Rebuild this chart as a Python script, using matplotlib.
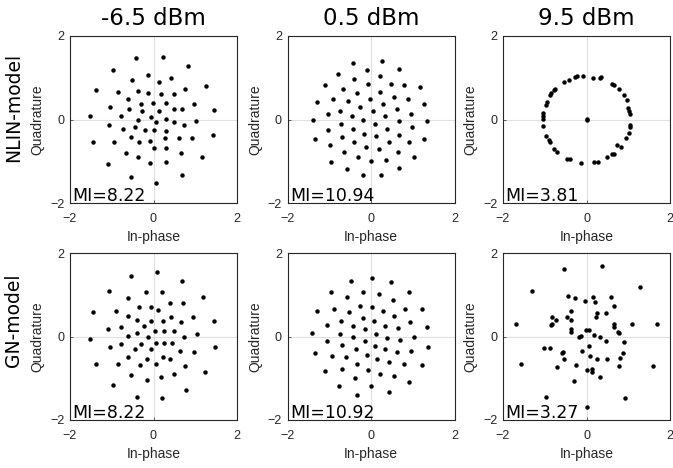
import numpy as np
import matplotlib.pyplot as plt

# launch powers and MI values
powers = ["-6.5 dBm", "0.5 dBm", "9.5 dBm"]
models = ["NLIN-model", "GN-model"]
mi_nlin = [8.22, 10.94, 3.81]
mi_gn = [8.22, 10.92, 3.27]

# received constellations
nlin_lo_i = [-0.41, 0.22, 0.83, -0.96, -0.14, 0.42, -0.52, 0.12, 1.26, -1.38, -0.86, -0.36, -0.13, 0.18, 0.48, 0.75,
             -0.61, -0.29, -0.02, 0.29, 0.97, -1.04, -0.59, -0.27, 0.12, 0.48, 0.69, 1.46, -1.52, -0.77, -0.06, -0.38,
             0.06, 0.29, 0.48, 0.72, 1.02, -1.07, -0.74, -0.44, -0.20, 0.00, 0.30, -1.44, -0.94, -0.54, -0.35, -0.08,
             0.28, 0.60, 0.92, 1.43, 0.00, 0.30, -0.67, -0.37, 0.67, 1.16, -0.08, 0.29, -1.08, -0.54, 0.69, 0.07]
nlin_lo_q = [1.48, 1.49, 1.29, 1.18, 1.07, 0.99, 0.94, 0.90, 0.81, 0.70, 0.67, 0.68, 0.64, 0.60, 0.60, 0.73,
             0.49, 0.36, 0.40, 0.39, 0.37, 0.31, 0.24, 0.20, 0.21, 0.24, 0.24, 0.23, 0.08, 0.09, 0.07, -0.02,
             -0.07, 0.01, -0.07, -0.13, -0.04, -0.13, -0.22, -0.17, -0.24, -0.26, -0.28, -0.54, -0.53, -0.43, -0.54, -0.51,
             -0.44, -0.44, -0.45, -0.38, -0.69, -0.69, -0.81, -0.90, -0.81, -0.91, -1.05, -1.02, -1.07, -1.38, -1.33, -1.52]

nlin_mid_i = [-0.42, 0.26, -0.78, -0.10, 0.66, -0.41, 0.22, -1.10, -0.68, -0.06, 0.47, 0.80, 1.17, -0.33, 0.22, -1.30,
              -0.91, -0.55, -0.03, 0.54, 0.89, -0.26, 0.29, 1.28, -0.74, -1.04, -0.46, 0.04, 0.62, 0.97, 0.34, -1.38,
              -0.18, 0.10, 0.66, 1.34, -0.73, -1.02, -0.44, -0.16, 0.38, 0.98, -1.34, -0.70, 0.13, 0.66, 1.28, -0.98,
              -0.41, -0.12, 0.42, 0.91, -0.65, 0.18, 0.65, -0.32, 0.36, 1.04, -0.97, 0.01, -0.58, 0.67, -0.18, 0.25]
nlin_mid_q = [1.36, 1.40, 1.10, 1.19, 1.20, 0.97, 1.03, 0.82, 0.74, 0.84, 0.86, 0.82, 0.78, 0.64, 0.66, 0.42,
              0.48, 0.44, 0.50, 0.54, 0.48, 0.30, 0.37, 0.38, 0.21, 0.12, 0.09, 0.20, 0.26, 0.14, 0.08, -0.02,
              -0.02, -0.10, -0.04, -0.04, -0.10, -0.24, -0.23, -0.34, -0.22, -0.19, -0.47, -0.43, -0.40, -0.36, -0.47, -0.62,
              -0.55, -0.65, -0.54, -0.55, -0.78, -0.70, -0.78, -0.91, -0.97, -0.90, -1.01, -1.00, -1.18, -1.16, -1.32, -1.33]

nlin_hi_i = [-0.54, -0.41, -0.27, -0.22, -0.09, 0.16, 0.32, 0.35, 0.60, 0.65, 0.78, 0.89, 0.96, 0.99, 1.02, 1.05,
             1.04, 1.04, 1.02, 0.94, 0.82, 0.73, 0.65, 0.61, 0.49, 0.27, 0.18, -0.12, -0.40, -0.46, -0.70, -0.78,
             -0.87, -0.89, -0.98, -1.04, -1.04, -1.03, -1.03, -0.98, -0.95, -0.88, -0.86, -0.77, -0.75, 0.00, 0.02]
nlin_hi_q = [0.90, 0.94, 1.02, 1.03, 1.05, 1.00, 1.00, 1.02, 0.86, 0.82, 0.72, 0.59, 0.46, 0.28, 0.20, 0.14,
             -0.12, -0.19, -0.33, -0.45, -0.66, -0.61, -0.82, -0.83, -0.90, -1.02, -1.02, -1.04, -0.95, -0.94, -0.77, -0.70,
             -0.54, -0.50, -0.40, -0.15, 0.02, 0.09, 0.16, 0.34, 0.42, 0.58, 0.64, 0.70, 0.73, 0.00, 0.02]

gn_lo_i = [0.09, -0.54, 0.68, -1.07, -0.19, 0.21, -0.60, 1.18, 0.40, 0.70, -0.34, -0.07, 0.10, -1.44, -0.90, -0.60,
           -0.39, -0.07, 0.23, 0.43, 0.65, 0.94, 1.44, -0.22, -1.08, -0.78, -0.40, 0.04, 0.25, 0.48, 1.03, -0.60,
           -0.14, 0.73, -1.52, 0.06, 0.25, 0.45, -0.31, -0.78, -1.05, -0.44, -0.06, 0.63, 0.98, 1.47, -0.60, -0.15,
           0.23, 0.40, -1.37, -0.86, -0.33, 0.05, 0.75, -0.54, 0.17, 0.48, 1.23, -0.15, -0.98, 0.79, -0.40, 0.21]
gn_lo_q = [1.54, 1.44, 1.33, 1.09, 1.07, 1.06, 0.93, 0.94, 0.81, 0.80, 0.70, 0.70, 0.64, 0.58, 0.61, 0.49,
           0.40, 0.38, 0.38, 0.46, 0.35, 0.46, 0.37, 0.26, 0.18, 0.22, 0.09, 0.14, 0.14, 0.12, 0.06, 0.02,
           -0.02, -0.01, -0.06, -0.16, -0.16, -0.15, -0.18, -0.19, -0.26, -0.31, -0.30, -0.34, -0.37, -0.26, -0.49, -0.54,
           -0.49, -0.53, -0.66, -0.66, -0.68, -0.66, -0.70, -0.93, -0.97, -0.90, -0.85, -1.03, -1.17, -1.29, -1.46, -1.48]

gn_mid_i = [0.03, -0.48, 0.49, -0.97, -0.18, 0.90, -0.58, 0.18, 0.52, -0.27, 0.02, -1.30, -0.88, -0.53, 0.29, 0.82,
            1.22, -0.19, 0.56, -1.06, -0.73, -0.43, 0.08, 0.34, 0.94, 1.35, -0.14, 0.65, -1.42, -0.74, 0.13, -0.42,
            0.39, 1.02, -1.05, -0.14, 0.69, -0.69, 0.09, -0.36, 0.34, 1.37, -1.34, -0.94, -0.59, -0.10, 0.63, 0.97,
            0.14, -0.34, 0.43, 0.79, 1.21, -1.11, -0.70, -0.08, 0.22, 0.55, -0.38, 0.92, -0.77, 0.01, 0.42, -0.34]
gn_mid_q = [1.40, 1.34, 1.30, 1.07, 1.07, 1.07, 0.94, 1.01, 0.88, 0.74, 0.71, 0.62, 0.67, 0.59, 0.62, 0.67,
            0.67, 0.45, 0.49, 0.28, 0.37, 0.26, 0.38, 0.26, 0.35, 0.22, 0.17, 0.20, 0.09, 0.07, 0.06, -0.01,
            -0.03, 0.00, -0.10, -0.10, -0.08, -0.21, -0.22, -0.29, -0.30, -0.24, -0.40, -0.46, -0.49, -0.44, -0.37, -0.34,
            -0.55, -0.65, -0.62, -0.67, -0.69, -0.83, -0.79, -0.80, -0.90, -0.94, -1.00, -1.08, -1.18, -1.19, -1.33, -1.40]

gn_hi_i = [0.38, -0.55, -1.30, 1.27, -0.45, -0.27, 0.15, -0.04, 0.20, 0.58, 0.65, -0.38, 0.26, 0.46, 0.22, -0.82,
           -0.47, -0.74, -0.38, -0.82, -0.85, -1.70, 0.67, 0.65, 1.08, 1.70, -0.36, -0.38, -0.01, 0.07, 0.76, 0.79,
           0.19, 0.32, -0.14, -0.17, 0.47, 0.89, -1.02, -0.87, 0.06, -0.10, -0.59, -0.57, -0.55, 0.08, 0.88, 0.24,
           0.50, 0.81, -1.58, -0.25, -0.70, 0.79, 1.59, 0.00, 0.14, 0.14, 0.33, -0.31, -0.96, 0.92, 0.00]
gn_hi_q = [1.68, 1.62, 1.10, 1.18, 0.96, 0.93, 0.94, 0.85, 0.83, 0.95, 0.73, 0.62, 0.56, 0.57, 0.47, 0.46,
           0.46, 0.39, 0.39, 0.31, 0.27, 0.29, 0.29, 0.22, 0.31, 0.29, 0.19, 0.11, 0.16, 0.15, 0.10, 0.09,
           0.03, -0.02, 0.01, -0.02, -0.10, -0.14, -0.27, -0.27, -0.23, -0.35, -0.40, -0.38, -0.53, -0.46, -0.39, -0.55,
           -0.54, -0.52, -0.65, -0.68, -0.74, -0.71, -0.70, -0.80, -0.78, -0.86, -0.97, -1.06, -1.44, -1.47, -1.70]

data = [[(nlin_lo_i, nlin_lo_q), (nlin_mid_i, nlin_mid_q), (nlin_hi_i, nlin_hi_q)],
        [(gn_lo_i, gn_lo_q), (gn_mid_i, gn_mid_q), (gn_hi_i, gn_hi_q)]]
mis = [mi_nlin, mi_gn]

fig = plt.figure(figsize=(6.73, 4.68), dpi=100)

lefts = [70 / 673, 287.5 / 673, 503 / 673]
bottoms = [265 / 468, 48 / 468]
w, h = 167 / 673, 167 / 468
tick_font = "Liberation Sans"
edge = "#262626"

for r in range(2):
    for c in range(3):
        ax = fig.add_axes([lefts[c], bottoms[r], w, h])
        i, q = data[r][c]
        ax.plot(i, q, "o", color="k", ms=3.2, mec="none", zorder=3)
        ax.set_xlim(-2, 2)
        ax.set_ylim(-2, 2)
        ax.set_xticks([-2, 0, 2])
        ax.set_yticks([-2, 0, 2])
        ax.grid(True, color="#e0e0e0", lw=0.8)
        ax.tick_params(direction="in", length=2, width=0.5, labelsize=9, colors=edge)
        ax.tick_params(axis="x", pad=7)
        ax.tick_params(axis="y", pad=4)
        for lab in ax.get_xticklabels() + ax.get_yticklabels():
            lab.set_fontfamily(tick_font)
        for s in ax.spines.values():
            s.set_color(edge)
            s.set_linewidth(0.8)
        ax.set_xlabel("In-phase", fontsize=10, family=tick_font, color=edge, labelpad=4)
        ax.set_ylabel("Quadrature", fontsize=10, family=tick_font, color=edge, labelpad=4)
        ax.text(0.015, 0.012, "MI=%.2f" % mis[r][c], transform=ax.transAxes,
                fontsize=12.5, family="DejaVu Sans", ha="left", va="baseline", zorder=4)
        if r == 0:
            ax.set_title(powers[c], fontsize=16.5, family="DejaVu Sans", pad=8)

fig.text(14 / 673, 1 - 107 / 468, models[0], rotation=90, fontsize=13.5, ha="center", va="center")
fig.text(14 / 673, 1 - 320 / 468, models[1], rotation=90, fontsize=13.5, ha="center", va="center")

fig.savefig("out.png", dpi=100)
